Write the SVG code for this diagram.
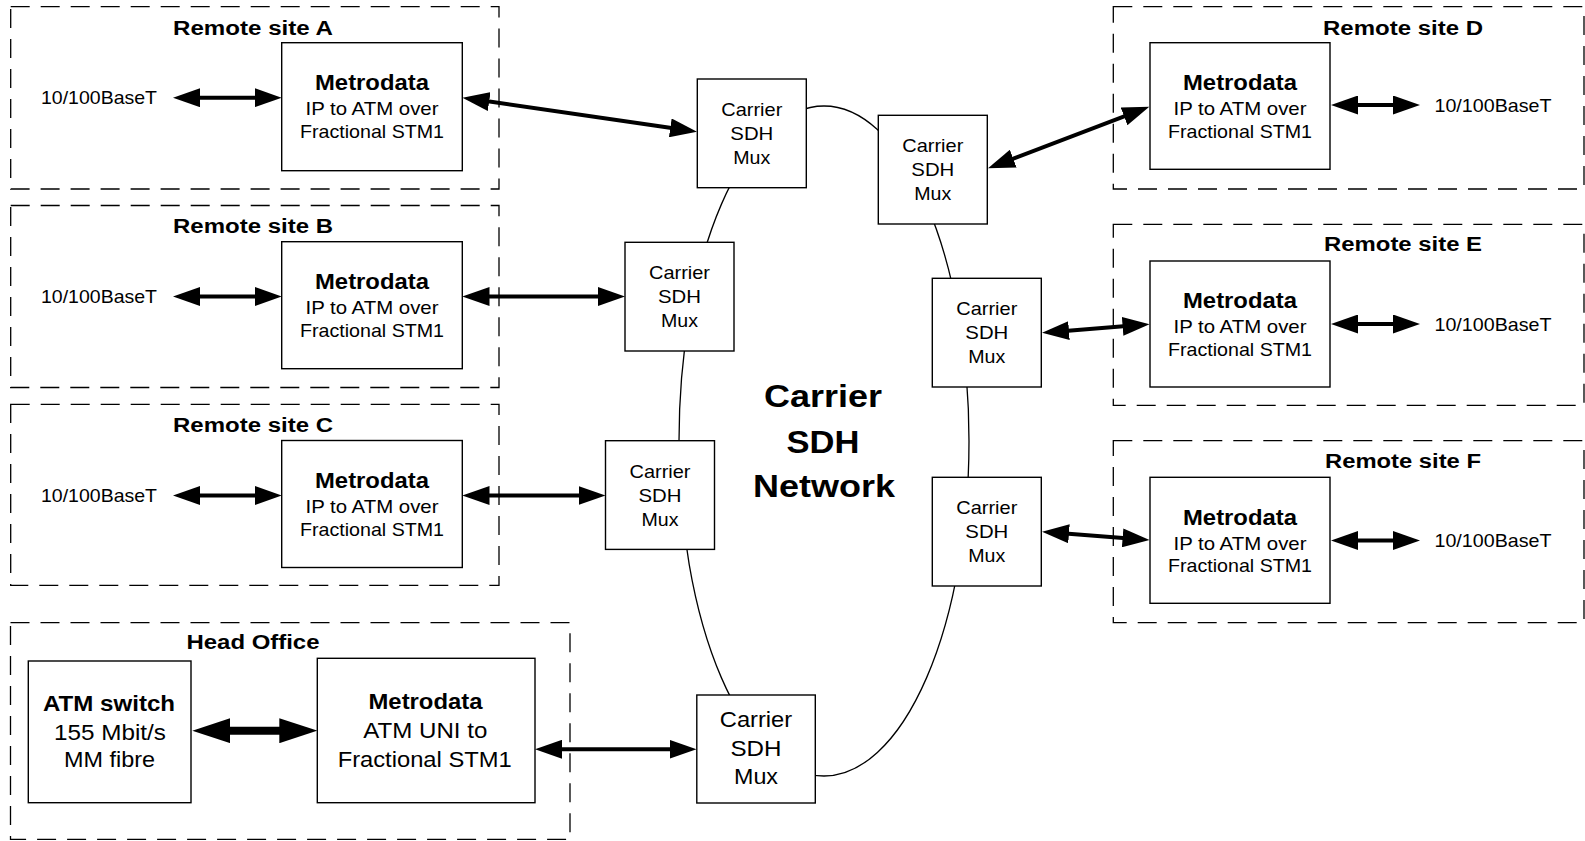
<svg xmlns="http://www.w3.org/2000/svg" width="1585" height="841" viewBox="0 0 1585 841">
<defs>
<style>
text{font-family:"Liberation Sans",Arial,sans-serif;fill:#000}
.site{font-size:20px;font-weight:bold;text-anchor:middle}
.mt{font-size:22px;font-weight:bold;text-anchor:middle}
.md{font-size:19px;text-anchor:middle}
.eth{font-size:18.5px}
.mx{font-size:18.5px;text-anchor:middle}
.mxh{font-size:21.5px;text-anchor:middle}
.hb{font-size:22px;font-weight:bold;text-anchor:middle}
.hr{font-size:22px;text-anchor:middle}
.net{font-size:32px;font-weight:bold;text-anchor:middle}
.dash{fill:none;stroke:#000;stroke-width:1.3;stroke-dasharray:19 11}
.box{fill:#fff;stroke:#000;stroke-width:1.4}
.conn{fill:none;stroke:#000;stroke-width:4}
.thick{fill:none;stroke:#000;stroke-width:8}
.ring{fill:none;stroke:#000;stroke-width:1.3}
</style>
<marker id="ah" markerUnits="userSpaceOnUse" markerWidth="27" markerHeight="19" refX="10" refY="9.5" orient="auto-start-reverse"><path d="M0,0 L27,9.5 L0,19 z" fill="#000"/></marker>
<marker id="ahb" markerUnits="userSpaceOnUse" markerWidth="38" markerHeight="25" refX="14" refY="12.5" orient="auto-start-reverse"><path d="M0,0 L38,12.5 L0,25 z" fill="#000"/></marker>
</defs>
<rect width="1585" height="841" fill="#fff"/>

<g id="sites">
<g id="siteA"><rect class="dash" x="10.7" y="6.7" width="488.3" height="182.3"/><text class="site" x="253" y="34.5" textLength="160" lengthAdjust="spacingAndGlyphs">Remote site A</text></g>
<g id="siteB"><rect class="dash" x="10.7" y="205.5" width="488.3" height="182"/><text class="site" x="253" y="233" textLength="160" lengthAdjust="spacingAndGlyphs">Remote site B</text></g>
<g id="siteC"><rect class="dash" x="10.7" y="404.3" width="488.3" height="181"/><text class="site" x="253" y="431.5" textLength="160" lengthAdjust="spacingAndGlyphs">Remote site C</text></g>
<g id="siteD"><rect class="dash" x="1113.3" y="6.7" width="470.7" height="182.3"/><text class="site" x="1403" y="34.5" textLength="160" lengthAdjust="spacingAndGlyphs">Remote site D</text></g>
<g id="siteE"><rect class="dash" x="1113.3" y="224.4" width="470.7" height="181"/><text class="site" x="1403" y="250.8" textLength="158" lengthAdjust="spacingAndGlyphs">Remote site E</text></g>
<g id="siteF"><rect class="dash" x="1113.3" y="440.7" width="470.7" height="182"/><text class="site" x="1403" y="468" textLength="156" lengthAdjust="spacingAndGlyphs">Remote site F</text></g>
<g id="headOffice"><rect class="dash" x="10.5" y="622.7" width="559.5" height="216.6"/><text class="site" x="253" y="649" textLength="133" lengthAdjust="spacingAndGlyphs">Head Office</text></g>
</g>

<g id="connectors">
<ellipse class="ring" cx="824" cy="441" rx="145" ry="335"/>
<path class="conn" d="M190,97.7 H264.7" marker-start="url(#ah)" marker-end="url(#ah)"/>
<path class="conn" d="M479.3,100.1 L680.2,129.3" marker-start="url(#ah)" marker-end="url(#ah)"/>
<path class="conn" d="M190,296.5 H264.7" marker-start="url(#ah)" marker-end="url(#ah)"/>
<path class="conn" d="M479.5,296.5 H608" marker-start="url(#ah)" marker-end="url(#ah)"/>
<path class="conn" d="M190,495.5 H264.7" marker-start="url(#ah)" marker-end="url(#ah)"/>
<path class="conn" d="M479.5,495.5 H588.5" marker-start="url(#ah)" marker-end="url(#ah)"/>
<path class="conn" d="M1003.9,162.2 L1133.4,112.8" marker-start="url(#ah)" marker-end="url(#ah)"/>
<path class="conn" d="M1348,105 H1403" marker-start="url(#ah)" marker-end="url(#ah)"/>
<path class="conn" d="M1059,331.4 L1132.6,325.6" marker-start="url(#ah)" marker-end="url(#ah)"/>
<path class="conn" d="M1348,324 H1403" marker-start="url(#ah)" marker-end="url(#ah)"/>
<path class="conn" d="M1059,533 L1132.6,538.7" marker-start="url(#ah)" marker-end="url(#ah)"/>
<path class="conn" d="M1348,540.5 H1403" marker-start="url(#ah)" marker-end="url(#ah)"/>
<path class="thick" d="M216.3,730.7 H293.3" marker-start="url(#ahb)" marker-end="url(#ahb)"/>
<path class="conn" d="M552,749.3 H679.5" marker-start="url(#ah)" marker-end="url(#ah)"/>
</g>

<g id="ethLabels">
<text class="eth" x="41" y="104.3" textLength="116" lengthAdjust="spacingAndGlyphs">10/100BaseT</text>
<text class="eth" x="41" y="303.1" textLength="116" lengthAdjust="spacingAndGlyphs">10/100BaseT</text>
<text class="eth" x="41" y="502.1" textLength="116" lengthAdjust="spacingAndGlyphs">10/100BaseT</text>
<text class="eth" x="1434.5" y="111.6" textLength="117" lengthAdjust="spacingAndGlyphs">10/100BaseT</text>
<text class="eth" x="1434.5" y="330.6" textLength="117" lengthAdjust="spacingAndGlyphs">10/100BaseT</text>
<text class="eth" x="1434.5" y="547.1" textLength="117" lengthAdjust="spacingAndGlyphs">10/100BaseT</text>
</g>

<g id="metroA"><rect class="box" x="281.7" y="42.7" width="180.6" height="128"/>
<text class="mt" x="372" y="90" textLength="114" lengthAdjust="spacingAndGlyphs">Metrodata</text>
<text class="md" x="372" y="115" textLength="133" lengthAdjust="spacingAndGlyphs">IP to ATM over</text>
<text class="md" x="372" y="137.7" textLength="144" lengthAdjust="spacingAndGlyphs">Fractional STM1</text></g>
<g id="metroB"><rect class="box" x="281.7" y="241.7" width="180.6" height="127"/>
<text class="mt" x="372" y="289" textLength="114" lengthAdjust="spacingAndGlyphs">Metrodata</text>
<text class="md" x="372" y="314" textLength="133" lengthAdjust="spacingAndGlyphs">IP to ATM over</text>
<text class="md" x="372" y="336.7" textLength="144" lengthAdjust="spacingAndGlyphs">Fractional STM1</text></g>
<g id="metroC"><rect class="box" x="281.7" y="440.5" width="180.6" height="127"/>
<text class="mt" x="372" y="487.8" textLength="114" lengthAdjust="spacingAndGlyphs">Metrodata</text>
<text class="md" x="372" y="512.8" textLength="133" lengthAdjust="spacingAndGlyphs">IP to ATM over</text>
<text class="md" x="372" y="535.5" textLength="144" lengthAdjust="spacingAndGlyphs">Fractional STM1</text></g>
<g id="metroD"><rect class="box" x="1150" y="42.7" width="180" height="126.6"/>
<text class="mt" x="1240" y="90" textLength="114" lengthAdjust="spacingAndGlyphs">Metrodata</text>
<text class="md" x="1240" y="115" textLength="133" lengthAdjust="spacingAndGlyphs">IP to ATM over</text>
<text class="md" x="1240" y="137.7" textLength="144" lengthAdjust="spacingAndGlyphs">Fractional STM1</text></g>
<g id="metroE"><rect class="box" x="1150" y="261" width="180" height="126"/>
<text class="mt" x="1240" y="308.3" textLength="114" lengthAdjust="spacingAndGlyphs">Metrodata</text>
<text class="md" x="1240" y="333.3" textLength="133" lengthAdjust="spacingAndGlyphs">IP to ATM over</text>
<text class="md" x="1240" y="356" textLength="144" lengthAdjust="spacingAndGlyphs">Fractional STM1</text></g>
<g id="metroF"><rect class="box" x="1150" y="477.3" width="180" height="126"/>
<text class="mt" x="1240" y="524.6" textLength="114" lengthAdjust="spacingAndGlyphs">Metrodata</text>
<text class="md" x="1240" y="549.6" textLength="133" lengthAdjust="spacingAndGlyphs">IP to ATM over</text>
<text class="md" x="1240" y="572.3" textLength="144" lengthAdjust="spacingAndGlyphs">Fractional STM1</text></g>

<g id="muxA"><rect class="box" x="697.3" y="79" width="109" height="108.7"/>
<text class="mx" x="751.8" y="115.8" textLength="61" lengthAdjust="spacingAndGlyphs">Carrier</text>
<text class="mx" x="751.8" y="139.8" textLength="43" lengthAdjust="spacingAndGlyphs">SDH</text>
<text class="mx" x="751.8" y="163.8" textLength="37" lengthAdjust="spacingAndGlyphs">Mux</text></g>
<g id="muxB"><rect class="box" x="625" y="242.3" width="109" height="108.7"/>
<text class="mx" x="679.5" y="279.1" textLength="61" lengthAdjust="spacingAndGlyphs">Carrier</text>
<text class="mx" x="679.5" y="303.1" textLength="43" lengthAdjust="spacingAndGlyphs">SDH</text>
<text class="mx" x="679.5" y="327.1" textLength="37" lengthAdjust="spacingAndGlyphs">Mux</text></g>
<g id="muxC"><rect class="box" x="605.5" y="440.7" width="109" height="108.7"/>
<text class="mx" x="660" y="477.5" textLength="61" lengthAdjust="spacingAndGlyphs">Carrier</text>
<text class="mx" x="660" y="501.5" textLength="43" lengthAdjust="spacingAndGlyphs">SDH</text>
<text class="mx" x="660" y="525.5" textLength="37" lengthAdjust="spacingAndGlyphs">Mux</text></g>
<g id="muxD"><rect class="box" x="878.3" y="115.3" width="109" height="108.7"/>
<text class="mx" x="932.8" y="152.1" textLength="61" lengthAdjust="spacingAndGlyphs">Carrier</text>
<text class="mx" x="932.8" y="176.1" textLength="43" lengthAdjust="spacingAndGlyphs">SDH</text>
<text class="mx" x="932.8" y="200.1" textLength="37" lengthAdjust="spacingAndGlyphs">Mux</text></g>
<g id="muxE"><rect class="box" x="932.3" y="278.3" width="109" height="108.7"/>
<text class="mx" x="986.8" y="315.1" textLength="61" lengthAdjust="spacingAndGlyphs">Carrier</text>
<text class="mx" x="986.8" y="339.1" textLength="43" lengthAdjust="spacingAndGlyphs">SDH</text>
<text class="mx" x="986.8" y="363.1" textLength="37" lengthAdjust="spacingAndGlyphs">Mux</text></g>
<g id="muxF"><rect class="box" x="932.3" y="477.3" width="109" height="108.7"/>
<text class="mx" x="986.8" y="514.1" textLength="61" lengthAdjust="spacingAndGlyphs">Carrier</text>
<text class="mx" x="986.8" y="538.1" textLength="43" lengthAdjust="spacingAndGlyphs">SDH</text>
<text class="mx" x="986.8" y="562.1" textLength="37" lengthAdjust="spacingAndGlyphs">Mux</text></g>
<g id="muxHO"><rect class="box" x="696.8" y="695" width="118.5" height="108"/>
<text class="mxh" x="756" y="727" textLength="72.4" lengthAdjust="spacingAndGlyphs">Carrier</text>
<text class="mxh" x="756" y="756" textLength="51" lengthAdjust="spacingAndGlyphs">SDH</text>
<text class="mxh" x="756" y="784" textLength="44" lengthAdjust="spacingAndGlyphs">Mux</text></g>

<g id="atmSwitch"><rect class="box" x="28.3" y="661" width="162.7" height="141.7"/>
<text class="hb" x="109" y="710.7" textLength="132" lengthAdjust="spacingAndGlyphs">ATM switch</text>
<text class="hr" x="110" y="740" textLength="112" lengthAdjust="spacingAndGlyphs">155 Mbit/s</text>
<text class="hr" x="109.5" y="767.3" textLength="91" lengthAdjust="spacingAndGlyphs">MM fibre</text></g>
<g id="metroHO"><rect class="box" x="317.3" y="658.3" width="217.7" height="144.4"/>
<text class="hb" x="425.5" y="709" textLength="114" lengthAdjust="spacingAndGlyphs">Metrodata</text>
<text class="hr" x="425.3" y="737.7" textLength="124" lengthAdjust="spacingAndGlyphs">ATM UNI to</text>
<text class="hr" x="424.7" y="766.7" textLength="174" lengthAdjust="spacingAndGlyphs">Fractional STM1</text></g>

<g id="network">
<text class="net" x="823" y="406.7" textLength="118" lengthAdjust="spacingAndGlyphs">Carrier</text>
<text class="net" x="823" y="452.7" textLength="73" lengthAdjust="spacingAndGlyphs">SDH</text>
<text class="net" x="824" y="496.7" textLength="142" lengthAdjust="spacingAndGlyphs">Network</text>
</g>
</svg>
